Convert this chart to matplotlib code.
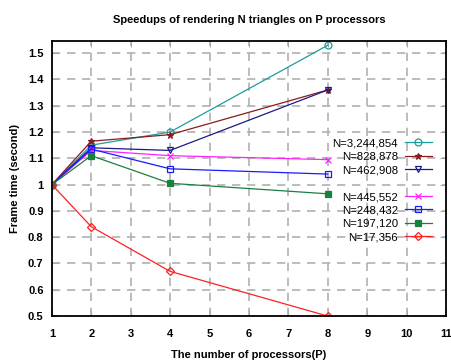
import matplotlib
matplotlib.use("Agg")
import matplotlib.pyplot as plt

procs = [1, 2, 4, 8]
labels = ["N=3,244,854", "N=828,878", "N=462,908",
          "N=445,552", "N=248,432", "N=197,120", "N=17,356"]
speedups = [
    [1.0, 1.15, 1.20, 1.53],
    [1.0, 1.165, 1.19, 1.36],
    [1.0, 1.14, 1.13, 1.36],
    [1.0, 1.13, 1.11, 1.095],
    [1.0, 1.135, 1.06, 1.04],
    [1.0, 1.11, 1.005, 0.965],
    [1.0, 0.84, 0.67, 0.50],
]
colors = ["#1f9c9c", "#8b1a1a", "#1a1a8b", "#ff22ff", "#1a1aff", "#1a8040", "#ff2020"]
markers = ["o", "*", "v", "x", "s", "s", "D"]
filled = [False, True, False, True, False, True, False]
xticks = list(range(1, 12))
yticks = [0.5, 0.6, 0.7, 0.8, 0.9, 1, 1.1, 1.2, 1.3, 1.4, 1.5]

plt.rcParams['font.family'] = ['Liberation Sans', 'DejaVu Sans']
fig = plt.figure(figsize=(4.51, 3.6), dpi=100)
ax = fig.add_axes([0.115, 0.122, 0.874, 0.764])

handles = []
for i in range(len(labels)):
    mfc = colors[i] if filled[i] else "none"
    ms = 5 if markers[i] != "D" else 4
    h, = ax.plot(procs, speedups[i], color=colors[i], marker=markers[i], markersize=ms,
                 markerfacecolor=mfc, markeredgecolor=colors[i], linewidth=0.9,
                 markeredgewidth=0.9, label=labels[i])
    handles.append(h)

blank, = ax.plot([], [], color="none", label=" ")
leg_handles = handles[:3] + [blank] + handles[3:]
leg_labels = labels[:3] + [" "] + labels[3:]
ax.legend(leg_handles, leg_labels, loc="upper right", bbox_to_anchor=(0.985, 0.675),
          markerfirst=False, frameon=False, fontsize=8.2, handlelength=2.4,
          labelspacing=0.3, handletextpad=0.6, borderpad=0.2)

ax.set_xlim(1, 11)
ax.set_ylim(0.5, 1.546)
ax.set_xticks(xticks)
ax.set_yticks(yticks)
ax.set_xticklabels([str(x) for x in xticks], fontweight="bold", fontsize=8)
ax.set_yticklabels([("%g" % y) for y in yticks], fontweight="bold", fontsize=8)
ax.tick_params(direction="in", top=True, right=True, length=4, color="#aaaaaa")
ax.tick_params(axis="x", pad=9)
ax.tick_params(axis="y", pad=6)
ax.grid(True, color="#b0b0b0", linestyle=(0, (5, 4)), linewidth=1.2)
for s in ax.spines.values():
    s.set_linewidth(1.3)

ax.set_xlabel("The number of processors(P)", fontweight="bold", fontsize=8, labelpad=8)
ax.set_ylabel("Frame time (second)", fontweight="bold", fontsize=8, labelpad=6)
ax.set_title("Speedups of rendering N triangles on P processors", fontweight="bold",
             fontsize=8, pad=13)

plt.savefig("out.png", dpi=100)
